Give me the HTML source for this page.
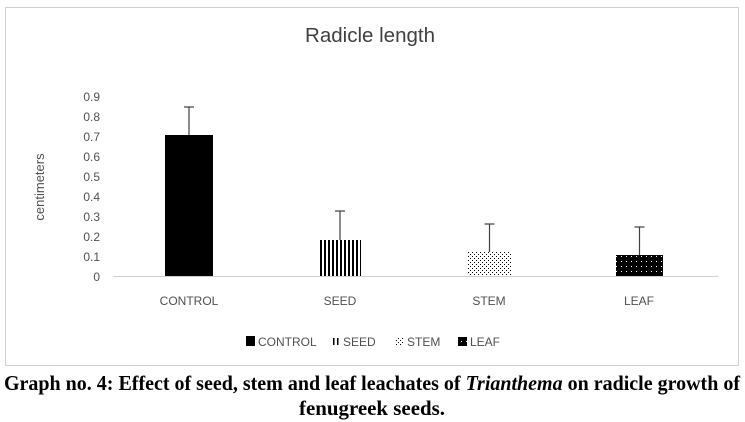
<!DOCTYPE html>
<html><head><meta charset="utf-8"><style>
html,body{margin:0;padding:0;background:#fff;}
svg{display:block;}
</style></head><body>
<svg width="745" height="422" viewBox="0 0 745 422" xmlns="http://www.w3.org/2000/svg">
<defs>
<pattern id="vl" width="4" height="4" patternUnits="userSpaceOnUse"><rect width="4" height="4" fill="#fff"/><rect x="0" width="2" height="4" fill="#000"/></pattern>
<pattern id="dt" width="4" height="4" patternUnits="userSpaceOnUse"><rect width="4" height="4" fill="#fff"/><rect x="0" y="0" width="1" height="1" fill="#000"/><rect x="2" y="2" width="1" height="1" fill="#000"/></pattern>
<pattern id="lf" width="5" height="5" patternUnits="userSpaceOnUse"><rect width="5" height="5" fill="#000"/><rect x="1" y="1" width="1" height="1" fill="#fff"/></pattern>
</defs>
<rect x="5.5" y="7.5" width="733" height="358" fill="#fff" stroke="#d0d0d0"/>
<text x="370" y="42" text-anchor="middle" font-family="Liberation Sans, sans-serif" font-size="20" fill="#404040" textLength="130" lengthAdjust="spacingAndGlyphs">Radicle length</text>
<g font-family="Liberation Sans, sans-serif" font-size="12" fill="#505050" text-anchor="end">
<text x="100" y="281">0</text><text x="100" y="261">0.1</text><text x="100" y="241">0.2</text><text x="100" y="221">0.3</text><text x="100" y="201">0.4</text><text x="100" y="181">0.5</text><text x="100" y="161">0.6</text><text x="100" y="141">0.7</text><text x="100" y="121">0.8</text><text x="100" y="101">0.9</text>
</g>
<text transform="translate(44,187) rotate(-90)" text-anchor="middle" font-family="Liberation Sans, sans-serif" font-size="13" fill="#505050">centimeters</text>
<line x1="113" y1="276.5" x2="718" y2="276.5" stroke="#d0d0d0"/>
<rect x="165" y="135" width="48" height="141" fill="#000"/>
<rect x="319" y="240" width="42" height="36" fill="url(#vl)"/>
<rect x="467" y="252" width="45" height="24" fill="url(#dt)"/>
<rect x="616" y="255" width="47" height="21" fill="url(#lf)"/>
<g stroke="#404040" stroke-width="1.2">
<line x1="189" y1="135" x2="189" y2="107"/><line x1="184" y1="107" x2="194" y2="107"/>
<line x1="340" y1="240" x2="340" y2="211"/><line x1="335" y1="211" x2="345" y2="211"/>
<line x1="489.5" y1="252" x2="489.5" y2="224"/><line x1="484.5" y1="224" x2="494.5" y2="224"/>
<line x1="639.5" y1="255" x2="639.5" y2="227"/><line x1="634.5" y1="227" x2="644.5" y2="227"/>
</g>
<g font-family="Liberation Sans, sans-serif" font-size="12" fill="#505050" text-anchor="middle">
<text x="189" y="305">CONTROL</text><text x="340" y="305">SEED</text><text x="489" y="305">STEM</text><text x="639" y="305">LEAF</text>
</g>
<g font-family="Liberation Sans, sans-serif" font-size="12" fill="#505050">
<rect x="246" y="336" width="9" height="10" fill="#000"/><text x="258" y="346">CONTROL</text>
<rect x="333" y="338" width="1.5" height="7" fill="#000"/><rect x="337" y="338" width="1.5" height="7" fill="#000"/><text x="343" y="346">SEED</text>
<rect x="395" y="337" width="9" height="9" fill="url(#dt)"/><text x="407" y="346">STEM</text>
<rect x="458" y="337" width="9" height="9" fill="url(#lf)"/><text x="470" y="346">LEAF</text>
</g>
<g font-family="Liberation Serif, serif" font-size="21" font-weight="bold" fill="#000" text-anchor="middle">
<text x="372" y="390" textLength="736" lengthAdjust="spacingAndGlyphs">Graph no. 4: Effect of seed, stem and leaf leachates of <tspan font-style="italic">Trianthema</tspan> on radicle growth of</text>
<text x="372" y="415" textLength="146" lengthAdjust="spacingAndGlyphs">fenugreek seeds.</text>
</g>
</svg>
</body></html>
